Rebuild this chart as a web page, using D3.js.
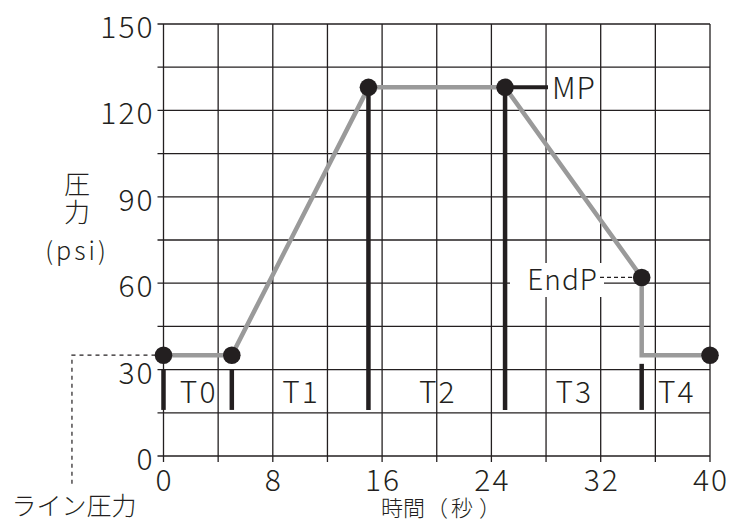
<!DOCTYPE html>
<html>
<head>
<meta charset="utf-8">
<script src="https://cdn.jsdelivr.net/npm/d3@7"></script>
<style>
  html, body { margin: 0; padding: 0; background: #fff; }
  svg text { font-family: "Noto Sans CJK JP", "Noto Sans", sans-serif; font-weight: 300; fill: #231f20; }
</style>
</head>
<body>
<svg id="chart" width="730" height="522"></svg>
<script>
// ---- data ----
const timeTickLabels = [0, 8, 16, 24, 32, 40];
const pressureTickLabels = [0, 30, 60, 90, 120, 150];
const timeGrid = [0, 4, 8, 12, 16, 20, 24, 28, 32, 36, 40];
const pressureGrid = [0, 15, 30, 45, 60, 75, 90, 105, 120, 135, 150];

const profileTime = [0, 5, 15, 25, 35, 35, 40];
const profilePressure = [35, 35, 128, 128, 62, 35, 35];

const dotTime = [0, 5, 15, 25, 35, 40];
const dotPressure = [35, 35, 128, 128, 62, 35];

const phaseBarTime = [0, 5, 15, 25, 35];
const phaseBarTop = [30, 30, 128, 128, 32];
const phaseBarBottom = 16;

const phaseLabels = ["T0", "T1", "T2", "T3", "T4"];
const phaseLabelTime = [2.5, 10, 20, 30, 37.5];
const phaseLabelPressure = 23;

const linePressure = 35;
const mpTime = 25, mpPressure = 128;
const endPTime = 35, endPPressure = 62;

const yTitleMain = "圧力";
const yTitleUnit = "(psi)";
const xTitleChars = ["時", "間", "（", "秒", "）"];

// ---- layout ----
const svg = d3.select("#chart");
const x = d3.scaleLinear().domain([0, 40]).range([163.5, 710]);
const y = d3.scaleLinear().domain([0, 150]).range([456, 24]);
const ink = "#231f20";

// grid
const g = svg.append("g");
g.selectAll(".vg").data(timeGrid).join("line")
  .attr("x1", d => x(d)).attr("x2", d => x(d))
  .attr("y1", y(150)).attr("y2", y(0) + 6)
  .attr("stroke", ink).attr("stroke-width", 1.3);
g.selectAll(".hg").data(pressureGrid).join("line")
  .attr("y1", d => y(d)).attr("y2", d => y(d))
  .attr("x1", x(0) - 6).attr("x2", x(40))
  .attr("stroke", ink).attr("stroke-width", 1.3);

// tick labels
svg.selectAll(".yl").data(pressureTickLabels).join("text")
  .attr("x", x(0) - 9).attr("y", d => y(d) + 1)
  .attr("text-anchor", "end").attr("dominant-baseline", "central")
  .attr("font-size", 30).attr("letter-spacing", 2)
  .text(d => d);
svg.selectAll(".xl").data(timeTickLabels).join("text")
  .attr("x", d => x(d) + 1).attr("y", y(0) + 22)
  .attr("text-anchor", "middle").attr("dominant-baseline", "central")
  .attr("font-size", 30).attr("letter-spacing", 2)
  .text(d => d);

// axis titles
svg.append("text")
  .attr("x", 77).attr("y", 199)
  .attr("writing-mode", "tb")
  .style("writing-mode", "vertical-rl")
  .attr("text-anchor", "middle")
  .attr("font-size", 26).attr("letter-spacing", 2)
  .text(yTitleMain);
svg.append("text")
  .attr("x", 77).attr("y", 249)
  .attr("text-anchor", "middle").attr("dominant-baseline", "central")
  .attr("font-size", 25).attr("letter-spacing", 3)
  .text(yTitleUnit);
svg.append("text")
  .attr("x", [392, 414, 437, 462, 490].join(" "))
  .attr("y", 516)
  .attr("text-anchor", "middle")
  .attr("font-size", 22).text(xTitleChars.join(""));
svg.append("text").attr("x", 74).attr("y", 515)
  .attr("text-anchor", "middle")
  .attr("font-size", 25).text("ライン圧力");

// line pressure dashed leader
svg.append("path")
  .attr("d", `M${x(0)},${y(linePressure)} H${x(-6.7)} V487`)
  .attr("fill", "none").attr("stroke", ink).attr("stroke-width", 1.2)
  .attr("stroke-dasharray", "4,4");

// white backgrounds for annotations
svg.append("rect").attr("x", 549).attr("y", 75).attr("width", 50).attr("height", 26).attr("fill", "#fff");
svg.append("rect").attr("x", 510).attr("y", 263).attr("width", 94).attr("height", 34).attr("fill", "#fff");

// profile line
const line = d3.line().x(d => x(d[0])).y(d => y(d[1]));
svg.append("path")
  .datum(profileTime.map((t, i) => [t, profilePressure[i]]))
  .attr("d", line).attr("fill", "none")
  .attr("stroke", "#9a9a9a").attr("stroke-width", 4.5)
  .attr("stroke-linejoin", "miter");

// phase bars
svg.selectAll(".bar").data(phaseBarTime).join("line")
  .attr("x1", d => x(d)).attr("x2", d => x(d))
  .attr("y1", (d, i) => y(phaseBarTop[i])).attr("y2", y(phaseBarBottom))
  .attr("stroke", ink).attr("stroke-width", 4.5);

// MP leader
svg.append("line")
  .attr("x1", x(mpTime)).attr("x2", 548)
  .attr("y1", y(mpPressure)).attr("y2", y(mpPressure))
  .attr("stroke", ink).attr("stroke-width", 4);
svg.append("text").attr("x", 552).attr("y", y(mpPressure) - 1)
  .attr("dominant-baseline", "central").attr("font-size", 30).attr("letter-spacing", 1).text("MP");

// EndP leader
svg.append("line")
  .attr("x1", 600).attr("x2", x(endPTime))
  .attr("y1", y(endPPressure)).attr("y2", y(endPPressure))
  .attr("stroke", ink).attr("stroke-width", 1.2).attr("stroke-dasharray", "4,3");
svg.append("text").attr("x", 598).attr("y", y(endPPressure) + 1)
  .attr("text-anchor", "end").attr("dominant-baseline", "central")
  .attr("font-size", 28).attr("letter-spacing", 1).text("EndP");

// dots
svg.selectAll(".dot").data(dotTime).join("circle")
  .attr("cx", d => x(d)).attr("cy", (d, i) => y(dotPressure[i]))
  .attr("r", 8.8).attr("fill", ink);

// phase labels
svg.selectAll(".ph").data(phaseLabels).join("text")
  .attr("x", (d, i) => x(phaseLabelTime[i]) + 1).attr("y", y(phaseLabelPressure))
  .attr("text-anchor", "middle").attr("dominant-baseline", "central")
  .attr("font-size", 30).attr("letter-spacing", 2)
  .text(d => d);
</script>
</body>
</html>
